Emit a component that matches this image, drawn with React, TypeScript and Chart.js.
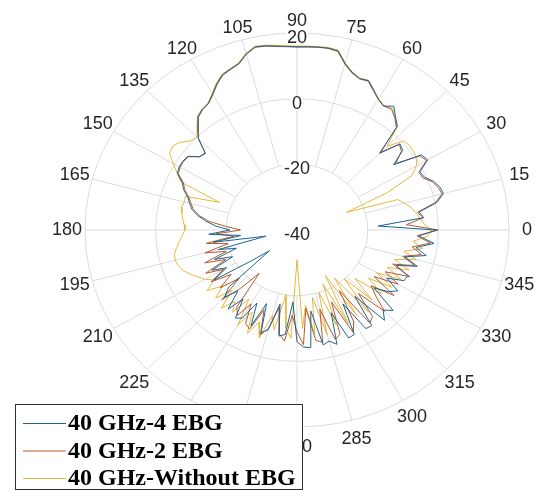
import React, { useEffect, useRef } from 'react';
import { Chart, registerables } from 'chart.js';

Chart.register(...registerables);

// ---------- data ----------
const angles = [
  0, 3, 6, 9, 12, 15, 18, 21, 24, 27, 30, 33, 36, 39, 42, 45, 48, 51, 54, 57,
  60, 63, 66, 69, 72, 75, 78, 81, 84, 87, 90, 93, 96, 99, 102, 105, 108, 111, 114, 117,
  120, 123, 126, 129, 132, 135, 138, 141, 144, 147, 150, 153, 156, 159, 162, 165, 168, 171, 174, 177,
  180, 183, 186, 189, 192, 195, 198, 201, 204, 207, 210, 213, 216, 219, 222, 225, 228, 231, 234, 237,
  240, 243, 246, 249, 252, 255, 258, 261, 264, 267, 270, 273, 276, 279, 282, 285, 288, 291, 294, 297,
  300, 303, 306, 309, 312, 315, 318, 321, 324, 327, 330, 333, 336, 339, 342, 345, 348, 351, 354, 357,
];

const ebg4 = [
  -0.5, -17, -4, -5, 0.5, 2.9, 2.5, 1.4, -0.5, -1, 2.7, 2, -6.2, -1.5, -0.8, -7, 2.5, 4.3, 6.6, 5,
  6, 7.8, 9.8, 9.4, 10.5, 12.5, 15.8, 16.1, 16, 15.9, 15.8, 16, 16.3, 16.8, 17, 15.5, 13.3, 12.5, 11.8, 10,
  7.8, 6, 5.5, 4.5, 2, -0.5, -5, -4.5, -1.8, -1.5, -1.5, -2, -4.5, -5.6, -7.5, -8.5, -9.6, -11.5, -14, -17,
  -21, -15, -24, -16, -31, -17, -22, -15, -20, -13, -17, -12, -24, -30, -14, -11, -15, -9, -14, -8,
  -9, -15, -8, -16, -7, -8.6, -17, -7.3, -8, -18, -6, -4.3, -4, -15, -4.2, -5, -3.4, -13, -4, -4.3,
  -14, -4.2, -4, -14, -3, -5.5, -3.4, -12, -8, -6, -10.7, -6, -5.7, -10, -4.2, -8.4, -2.6, -5.9, -1, -5.5,
];

const ebg2 = [
  0, -9, -4, -5.5, 0, 2.5, 2, 1, -1, -1.3, 2.3, 1.5, -5.5, -2, -1, -6.5, 2, 4, 5.5, 5,
  6, 7.6, 9.6, 9.3, 10.3, 12.3, 15.6, 16, 16, 15.8, 15.7, 15.9, 16.2, 16.7, 16.9, 15.4, 13.2, 12.4, 11.6, 9.8,
  7.6, 5.9, 5.4, 4.3, 1.8, -0.7, -5.2, -4.6, -2, -1.7, -1.8, -2.3, -4.8, -6, -7.8, -9, -10, -12, -15, -20,
  -24, -17, -22, -14, -20, -13, -19, -12, -18, -11, -16, -11, -17, -12, -18, -10, -16, -23, -11, -9,
  -14, -8, -7, -14, -6.5, -9, -16, -8, -6, -14, -9, -5, -16, -6, -5, -15, -5, -6, -16, -5,
  -8, -18, -5, -6, -14, -5, -10, -13, -6, -14, -7, -12, -5, -11, -5, -9, -4, -7, -2, -6,
];

const noEbg = [
  -2, -4, -5, -6, -7, -8.5, -10, -25, -12, -3.5, -1, 0.5, 0.7, 1, 0.5, -4, 2.2, 4.2, 5.8, 5.2,
  6.2, 7.9, 9.9, 9.6, 10.6, 12.7, 16, 16.3, 16.2, 16.1, 16, 16.2, 16.5, 17, 17.2, 15.8, 13.5, 12.7, 12, 10.2,
  8, 6.2, 5.7, 4.7, 2.3, 0, 0.5, 2.5, 3.5, 3, 0.5, -2, -4, -16.5, -6.8, -7, -6.5, -7, -7.5, -8,
  -8.3, -7.5, -6.5, -5.5, -4.5, -4.3, -4.7, -5.5, -7, -8.5, -10, -12, -8.5, -13, -9, -14, -8, -12, -9, -15,
  -6.5, -12, -5.5, -10, -5.5, -13, -9, -20, -10, -7, -31, -10, -17, -8, -19, -7, -20, -9, -22, -8,
  -24, -9, -22, -8, -20, -10, -18, -9, -15, -8, -14, -7, -12, -6, -11, -5, -9, -4, -7, -3,
];

const seriesLabels = ['40 GHz-4 EBG', '40 GHz-2 EBG', '40 GHz-Without EBG'];
const seriesColors = ['#1d6590', '#b8582e', '#e4b840'];
const angleTicks = [0, 15, 30, 45, 60, 75, 90, 105, 120, 135, 150, 165, 180, 195, 210, 225, 240, 255, 270, 285, 300, 315, 330, 345];
const radialTicks = [-40, -20, 0, 20];
const R_MIN = -40;
const R_MAX = 20;

// ---------- layout ----------
const W = 535;
const H = 491;
const CX = 297;
const CY = 230;
const RX = 212;
const RY = 197;
const SPAN = R_MAX - R_MIN;
const GRID = '#dcdcdc';
const TEXT = '#262626';
const LABEL_FONT = '18px "Liberation Sans", Arial, sans-serif';
const LEG = { x: 15, y: 404, w: 287, h: 85, row0: 423, step: 27.5, lineX0: 23, lineX1: 66, textX: 68 };

function toXY(deg: number, db: number) {
  const r = Math.max(db - R_MIN, 0);
  const a = (deg * Math.PI) / 180;
  return { x: r * Math.cos(a), y: r * Math.sin(a) };
}

function buildSeries(vals: number[]) {
  const pts = angles.map((a, i) => toXY(a, vals[i]));
  pts.push(toXY(360, vals[0]));
  return pts;
}

const polarGrid = {
  id: 'polarGrid',
  beforeDatasetsDraw(chart: any) {
    const { ctx } = chart;
    const xs = chart.scales.x;
    const ys = chart.scales.y;
    const cx = xs.getPixelForValue(0);
    const cy = ys.getPixelForValue(0);
    const rx = (d: number) => xs.getPixelForValue(d) - cx;
    const ry = (d: number) => cy - ys.getPixelForValue(d);
    ctx.save();
    ctx.strokeStyle = GRID;
    ctx.lineWidth = 1;
    radialTicks.forEach((t) => {
      const d = t - R_MIN;
      if (d <= 0) return;
      ctx.beginPath();
      ctx.ellipse(cx, cy, rx(d), ry(d), 0, 0, Math.PI * 2);
      ctx.stroke();
    });
    const inner = radialTicks[1] - R_MIN;
    angleTicks.forEach((a) => {
      const rad = (a * Math.PI) / 180;
      const c = Math.cos(rad);
      const s = Math.sin(rad);
      ctx.beginPath();
      ctx.moveTo(cx + c * rx(inner), cy - s * ry(inner));
      ctx.lineTo(cx + c * rx(SPAN), cy - s * ry(SPAN));
      ctx.stroke();
    });
    ctx.font = LABEL_FONT;
    ctx.fillStyle = TEXT;
    ctx.textAlign = 'center';
    ctx.textBaseline = 'middle';
    angleTicks.forEach((a) => {
      const rad = (a * Math.PI) / 180;
      const s = Math.sin(rad);
      const offY = 16 - 4 * s;
      ctx.fillText(String(a), cx + Math.cos(rad) * (rx(SPAN) + 18), cy - s * (ry(SPAN) + offY));
    });
    radialTicks.forEach((t) => {
      const d = t - R_MIN;
      const yy = cy - ry(d) + 5;
      const label = String(t);
      const w = ctx.measureText(label).width;
      ctx.fillStyle = '#ffffff';
      ctx.fillRect(cx - w / 2 - 1, yy - 7, w + 2, 14);
      ctx.fillStyle = TEXT;
      ctx.fillText(label, cx, yy);
    });
    ctx.restore();
  },
};

const boxLegend = {
  id: 'boxLegend',
  afterDraw(chart: any) {
    const { ctx } = chart;
    ctx.save();
    ctx.fillStyle = '#ffffff';
    ctx.fillRect(LEG.x, LEG.y, LEG.w, LEG.h);
    ctx.strokeStyle = '#303030';
    ctx.lineWidth = 1;
    ctx.strokeRect(LEG.x + 0.5, LEG.y + 0.5, LEG.w, LEG.h);
    chart.data.datasets.forEach((d: any, i: number) => {
      const yy = LEG.row0 + i * LEG.step;
      ctx.strokeStyle = d.borderColor;
      ctx.lineWidth = 1;
      ctx.beginPath();
      ctx.moveTo(LEG.lineX0, yy + 0.5);
      ctx.lineTo(LEG.lineX1, yy + 0.5);
      ctx.stroke();
      ctx.fillStyle = '#000000';
      ctx.font = 'bold 24px "Liberation Serif", "Times New Roman", serif';
      ctx.textAlign = 'left';
      ctx.textBaseline = 'middle';
      ctx.fillText(d.label, LEG.textX, yy + 1);
    });
    ctx.restore();
  },
};

export default function App() {
  const ref = useRef<HTMLCanvasElement | null>(null);
  useEffect(() => {
    if (!ref.current) return;
    const values = [ebg4, ebg2, noEbg];
    const chart = new Chart(ref.current, {
      type: 'scatter',
      data: {
        datasets: values.map((v, i) => ({
          label: seriesLabels[i],
          data: buildSeries(v),
          showLine: true,
          borderColor: seriesColors[i],
          backgroundColor: seriesColors[i],
          borderWidth: 1,
          pointRadius: 0,
          tension: 0,
          fill: false,
          clip: false as any,
        })),
      },
      options: {
        animation: false,
        responsive: false,
        events: [],
        layout: { padding: 0 },
        plugins: { legend: { display: false }, tooltip: { enabled: false } },
        scales: {
          x: { type: 'linear', display: false, min: (-CX / RX) * SPAN, max: ((W - CX) / RX) * SPAN },
          y: { type: 'linear', display: false, min: (-(H - CY) / RY) * SPAN, max: (CY / RY) * SPAN },
        },
      },
      plugins: [polarGrid, boxLegend],
    });
    return () => chart.destroy();
  }, []);
  return (
    <div style={{ position: 'fixed', left: 0, top: 0, width: W, height: H, background: '#ffffff' }}>
      <canvas ref={ref} width={W} height={H} style={{ display: 'block', width: W, height: H }} />
    </div>
  );
}
